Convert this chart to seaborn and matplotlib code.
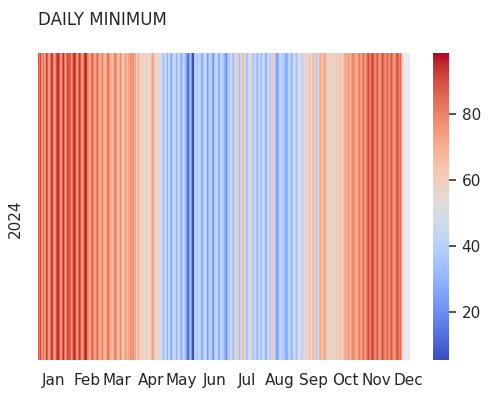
import numpy as np
import pandas as pd
import matplotlib
matplotlib.use("Agg")
import matplotlib.pyplot as plt
import seaborn as sns

sns.set_theme(style="darkgrid")

# Daily minimum values, 2024
jan = [88, 82, 90, 80, 76, 85, 74, 78, 92, 87, 76, 72, 83, 94, 91, 80, 74, 79, 89, 94,
       95, 86, 78, 74, 89, 94, 83, 76, 81, 92, 88]
feb = [87, 76, 83, 92, 96, 89, 80, 74, 85, 94, 88, 78, 74, 83, 90, 98, 92, 82, 76, 74,
       72, 82, 88, 78, 74, 72, 80, 86, 76]
mar = [74, 70, 76, 80, 72, 68, 66, 74, 80, 84, 76, 70, 68, 64, 72, 78, 82, 74, 68, 66,
       70, 78, 72, 64, 62, 68, 76, 70, 66, 74, 68]
apr = [78, 72, 80, 68, 74, 62, 66, 70, 64, 58, 56, 60, 57, 55, 58, 62, 56, 54, 57, 60,
       66, 74, 70, 62, 58, 55, 56, 58, 54, 52]
may = [46, 40, 34, 44, 48, 38, 30, 42, 46, 32, 26, 38, 44, 48, 40, 30, 38, 46, 42, 34,
       28, 38, 44, 40, 32, 24, 18, 12, 26, 36, 82]
jun = [6, 36, 44, 40, 34, 46, 42, 38, 30, 28, 40, 44, 46, 38, 24, 32, 42, 44, 36, 28,
       22, 38, 42, 46, 40, 32, 28, 42, 46, 40]
jul = [36, 30, 26, 20, 30, 42, 36, 44, 46, 38, 32, 42, 48, 62, 46, 40, 34, 44, 50, 64,
       68, 54, 44, 38, 34, 44, 50, 58, 46, 38, 36]
aug = [44, 36, 30, 40, 46, 38, 32, 44, 48, 40, 34, 28, 46, 54, 42, 36, 56, 66, 56, 42,
       34, 28, 24, 32, 40, 46, 42, 36, 44, 34, 30]
sep = [26, 32, 40, 46, 38, 30, 36, 44, 50, 40, 34, 42, 52, 58, 50, 44, 40, 46, 54, 60,
       56, 52, 62, 66, 58, 54, 62, 68, 62, 58]
oct_ = [36, 60, 68, 72, 66, 62, 70, 74, 68, 64, 60, 58, 62, 56, 58, 60, 62, 58, 56, 60,
        64, 58, 62, 66, 60, 58, 64, 70, 74, 68, 72]
nov = [76, 72, 68, 74, 78, 80, 76, 72, 70, 74, 78, 82, 76, 72, 80, 84, 78, 74, 80, 86,
       90, 84, 80, 88, 92, 86, 82, 78, 84, 88]
dec = [80, 76, 84, 90, 86, 80, 78, 82, 86, 80, 76, 84, 88, 82, 78, 74, 80, 86, 90, 84,
       80, 86, 68, 62]
missing_days = 7

month_labels = ["Jan", "Feb", "Mar", "Apr", "May", "Jun",
                "Jul", "Aug", "Sep", "Oct", "Nov", "Dec"]
tick_pos = [15, 48, 78, 111, 141, 174, 206, 238, 271, 302, 333, 364]
year = 2024

values = (jan + feb + mar + apr + may + jun + jul + aug + sep + oct_ + nov + dec
          + [np.nan] * missing_days)
dates = pd.date_range(f"{year}-01-01", periods=len(values), freq="D")
df = pd.DataFrame([values], index=[year], columns=dates)

fig = plt.figure(figsize=(4.91, 3.99), dpi=100)
ax = fig.add_axes([0.0774, 0.0977, 0.7576, 0.769])
cax = fig.add_axes([0.8819, 0.0977, 0.0326, 0.769])

sns.heatmap(df, cmap="coolwarm", ax=ax, cbar_ax=cax,
            xticklabels=False, yticklabels=False, vmin=5.5, vmax=98.5)
ax.grid(False)
ax.set_xticks(tick_pos)
ax.set_xticklabels(month_labels, rotation=0, fontsize=11)
ax.tick_params(axis="x", length=0, pad=9)
ax.set_yticks([])
ax.set_ylabel(str(year), fontsize=11)
ax.yaxis.set_label_coords(-0.042, 0.46)
ax.set_xlabel("")
ax.set_title("DAILY MINIMUM", loc="left", fontsize=12, pad=20)

cax.set_yticks([20, 40, 60, 80])
cax.tick_params(axis="y", length=5, width=1.2, color="#333333", labelsize=11, pad=4)

fig.savefig("out.png", dpi=100)
